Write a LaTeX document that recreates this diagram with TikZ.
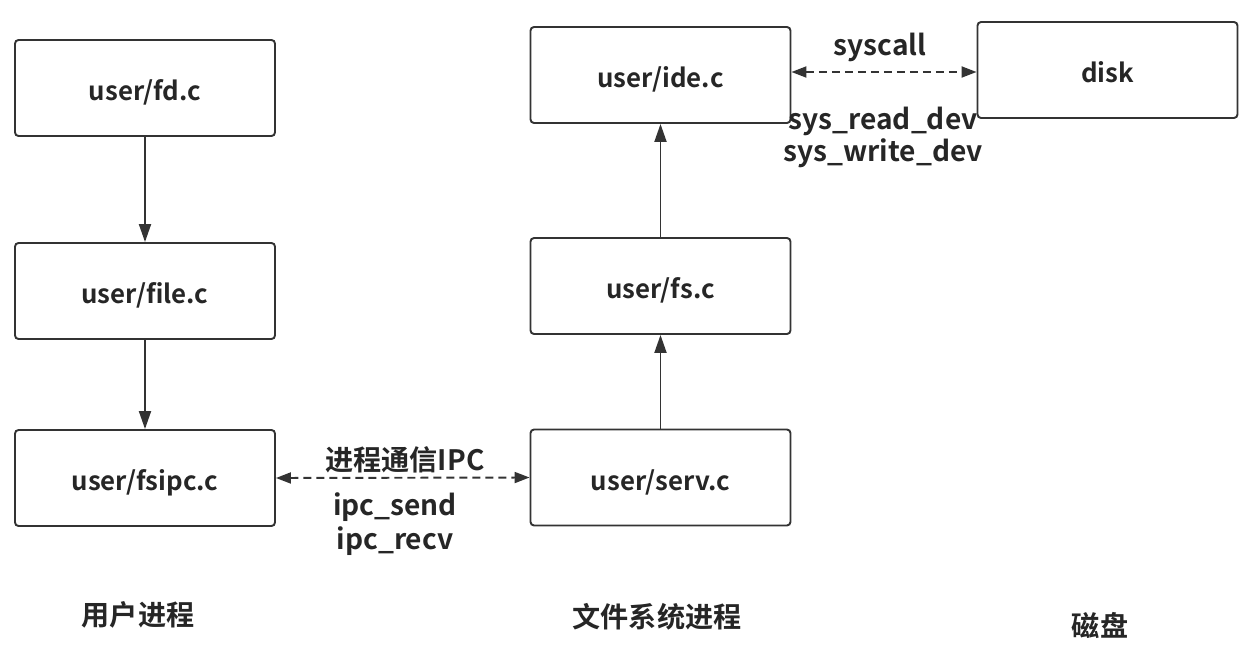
\documentclass[tikz,border=0pt]{standalone}
\usepackage{fontspec}
\setmainfont{Noto Sans CJK SC}[BoldFont={Noto Sans CJK SC Bold}]
\usetikzlibrary{arrows.meta, positioning}

\begin{document}
\begin{tikzpicture}[
    x=0.02cm, y=-0.02cm,
    module/.style={rectangle, draw=black!80, line width=1.1pt, rounded corners=2pt, minimum width=5.2cm, minimum height=1.92cm, text height=17.5pt, text depth=3pt, font=\fontsize{14.7}{17}\selectfont\bfseries, text=black!85},
    label/.style={font=\fontsize{16}{18}\selectfont\bfseries, text=black!85, inner sep=1pt},
    arrow/.style={draw=black!80, line width=1.1pt, -{Triangle[length=0.36cm, width=0.24cm]}},
    dasharrow/.style={draw=black!80, line width=1.1pt, dash pattern=on 0.16cm off 0.1cm, {Triangle[length=0.3cm, width=0.22cm]}-{Triangle[length=0.3cm, width=0.22cm]}}
]
    \useasboundingbox (0,0) rectangle (1259,666);

    % user process
    \node (fd) [module] at (145,88) {user/fd.c};
    \node (file) [module] at (145,291) {user/file.c};
    \node (fsipc) [module] at (145,478) {user/fsipc.c};

    % file system process
    \node (ide) [module] at (660.5,75) {user/ide.c};
    \node (fs) [module] at (660.5,286) {user/fs.c};
    \node (serv) [module] at (660.5,477.5) {user/serv.c};

    % disk
    \node (disk) [module] at (1107.5,70) {disk};

    % connectors
    \draw [arrow] (fd) -- (file);
    \draw [arrow] (file) -- (fsipc);
    \draw [arrow] (serv) -- (fs);
    \draw [arrow] (fs) -- (ide);
    \draw [dasharrow] (fsipc.east) -- (serv.west);
    \draw [dasharrow] ([yshift=0.06cm]ide.east) -- ([yshift=0.06cm]ide.east -| disk.west);

    % connector labels
    \node (ipc) [label] at (405,460) {进程通信IPC};
    \node (send) [label] at (395,507) {ipc\_send};
    \node (recv) [label] at (395,541) {ipc\_recv};
    \node (syscall) [label] at (880,47) {syscall};
    \node (rdev) [label] at (883,121) {sys\_read\_dev};
    \node (wdev) [label] at (883,153) {sys\_write\_dev};

    % group titles
    \node (userproc) [label] at (138,615) {用户进程};
    \node (fsproc) [label] at (657,617) {文件系统进程};
    \node (diskname) [label] at (1100,625) {磁盘};
\end{tikzpicture}
\end{document}
